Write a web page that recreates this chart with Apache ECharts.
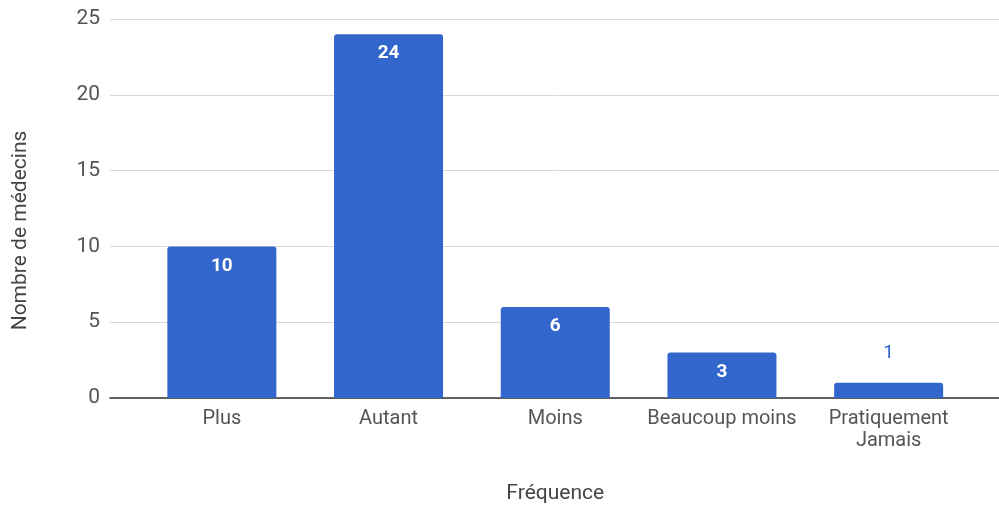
<!DOCTYPE html>
<html>
<head>
<meta charset="utf-8">
<script src="https://cdn.jsdelivr.net/npm/echarts@6/dist/echarts.min.js"></script>
<style>
  html, body { margin: 0; padding: 0; background: #fff; }
  #main { width: 999px; height: 506px; }
</style>
</head>
<body>
<div id="main"></div>
<script>
var categories = ['Plus', 'Autant', 'Moins', 'Beaucoup moins', 'Pratiquement\nJamais'];
var values = [10, 24, 6, 3, 1];
var yTicks = [0, 5, 10, 15, 20, 25];

var chart = echarts.init(document.getElementById('main'));

// bars too small to hold their label get it above, in blue
var barData = values.map(function (v) {
    if (v < 2) {
        return {
            value: v,
            label: { position: 'top', distance: 20, color: '#3366cc', fontWeight: 'normal' }
        };
    }
    return v;
});

var option = {
    textStyle: { fontFamily: 'Roboto' },
    grid: [
        // grid 0: axis, gridlines (wider than the bars)
        { left: 110, right: 0, top: 19, bottom: 108, outerBoundsMode: 'none' },
        // grid 1: the bars
        { left: 138.5, right: 27, top: 19, bottom: 108, outerBoundsMode: 'none' }
    ],
    xAxis: [
        {
            gridIndex: 0, type: 'category', data: [''],
            axisLine: { lineStyle: { color: '#333', width: 1.5 } },
            axisTick: { show: false }, axisLabel: { show: false }
        },
        {
            gridIndex: 1, type: 'category', data: categories,
            name: 'Fréquence', nameLocation: 'middle', nameGap: 85,
            nameTextStyle: { fontSize: 21, color: '#444' },
            axisLine: { show: false }, axisTick: { show: false },
            axisLabel: { interval: 0, fontSize: 20, color: '#555', margin: 10, lineHeight: 22 }
        }
    ],
    yAxis: [
        {
            gridIndex: 0, type: 'value', min: yTicks[0], max: yTicks[yTicks.length - 1], interval: 5,
            name: 'Nombre de médecins', nameLocation: 'middle', nameGap: 79,
            nameTextStyle: { fontSize: 21, color: '#444', padding: [0, 44, 0, 0] },
            axisLine: { show: false }, axisTick: { show: false },
            axisLabel: { fontSize: 21, color: '#555', margin: 10 },
            splitLine: { lineStyle: { color: '#d9d9d9', width: 1 } }
        },
        {
            gridIndex: 1, type: 'value', min: 0, max: 25, interval: 5,
            show: false
        }
    ],
    series: [
        {
            type: 'bar',
            xAxisIndex: 1, yAxisIndex: 1,
            data: barData,
            barWidth: 109,
            itemStyle: { color: '#3366cc', borderRadius: [3, 3, 0, 0] },
            label: {
                show: true, position: 'insideTop', distance: 10,
                color: '#fff', fontSize: 19, fontWeight: 'bold'
            }
        }
    ]
};

chart.setOption(option);
</script>
</body>
</html>
